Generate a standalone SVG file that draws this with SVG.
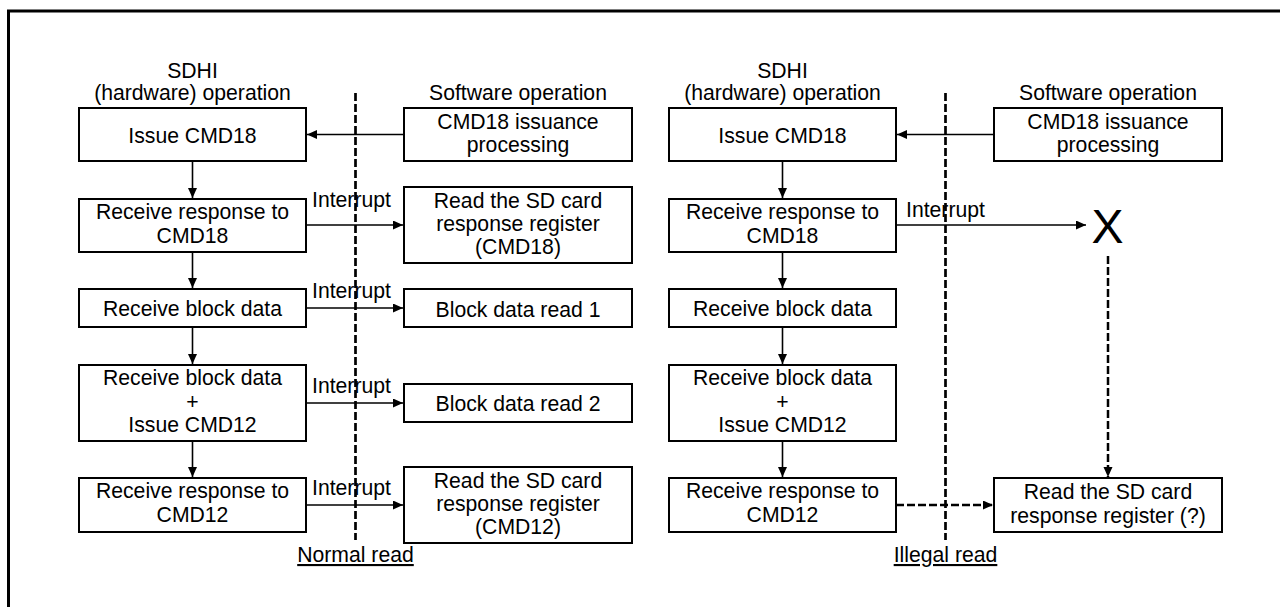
<svg xmlns="http://www.w3.org/2000/svg" width="1280" height="607" viewBox="0 0 1280 607">
<style>
.box{fill:#fff;stroke:#000;stroke-width:2}
.t{font-family:"Liberation Sans",Arial,sans-serif;font-size:21.2px;fill:#000;text-anchor:middle}
.ts{font-family:"Liberation Sans",Arial,sans-serif;font-size:21.2px;fill:#000}
.a{stroke:#000;stroke-width:1.6;fill:none;marker-end:url(#ah)}
.ad{stroke:#000;stroke-width:2.5;fill:none;stroke-dasharray:8 3;marker-end:url(#ah)}
.div{stroke:#000;stroke-width:2.7;fill:none;stroke-dasharray:8 3}
</style>
<defs>
<marker id="ah" markerUnits="userSpaceOnUse" markerWidth="11" markerHeight="10" refX="10" refY="4.5" orient="auto">
<path d="M0,0 L10,4.5 L0,9 z" fill="#000"/>
</marker>
</defs>
<rect x="0" y="0" width="1280" height="607" fill="#fff"/>
<rect x="8.5" y="11" width="1300" height="700" fill="none" stroke="#000" stroke-width="3"/>

<g id="headers">
<text class="t" x="192.5" y="78">SDHI</text>
<text class="t" x="192.5" y="100">(hardware) operation</text>
<text class="t" x="518" y="100">Software operation</text>
<text class="t" x="782.5" y="78">SDHI</text>
<text class="t" x="782.5" y="100">(hardware) operation</text>
<text class="t" x="1108" y="100">Software operation</text>
</g>

<g id="dividers">
<line class="div" x1="355.5" y1="93" x2="355.5" y2="540"/>
<line class="div" x1="945.5" y1="93" x2="945.5" y2="540"/>
</g>

<g id="connectors">
<!-- left -->
<line class="a" x1="404" y1="134.5" x2="307" y2="134.5"/>
<line class="a" x1="192.5" y1="161" x2="192.5" y2="198"/>
<line class="a" x1="192.5" y1="252" x2="192.5" y2="288"/>
<line class="a" x1="192.5" y1="327" x2="192.5" y2="364"/>
<line class="a" x1="192.5" y1="441" x2="192.5" y2="477"/>
<line class="a" x1="306" y1="225" x2="403" y2="225"/>
<line class="a" x1="306" y1="308" x2="403" y2="308"/>
<line class="a" x1="306" y1="403" x2="403" y2="403"/>
<line class="a" x1="306" y1="505" x2="403" y2="505"/>
<!-- right -->
<line class="a" x1="994" y1="134.5" x2="897" y2="134.5"/>
<line class="a" x1="782.5" y1="161" x2="782.5" y2="198"/>
<line class="a" x1="782.5" y1="252" x2="782.5" y2="288"/>
<line class="a" x1="782.5" y1="327" x2="782.5" y2="364"/>
<line class="a" x1="782.5" y1="441" x2="782.5" y2="477"/>
<line class="a" x1="896" y1="225" x2="1086" y2="225"/>
<line class="ad" x1="896" y1="505" x2="993" y2="505"/>
<line class="ad" x1="1108" y1="256" x2="1108" y2="477"/>
<!-- labels -->
<text class="ts" x="312" y="207">Interrupt</text>
<text class="ts" x="312" y="298">Interrupt</text>
<text class="ts" x="312" y="393">Interrupt</text>
<text class="ts" x="312" y="495">Interrupt</text>
<text class="ts" x="906" y="217">Interrupt</text>
</g>

<!-- Left: SDHI -->
<g id="L_issue18">
<rect class="box" x="79" y="108" width="227" height="53"/>
<text class="t" x="192.5" y="143">Issue CMD18</text>
</g>
<g id="L_resp18">
<rect class="box" x="79" y="199" width="227" height="53"/>
<text class="t" x="192.5" y="218.5">Receive response to</text>
<text class="t" x="192.5" y="242.5">CMD18</text>
</g>
<g id="L_block">
<rect class="box" x="79" y="289" width="227" height="38"/>
<text class="t" x="192.5" y="316">Receive block data</text>
</g>
<g id="L_block12">
<rect class="box" x="79" y="365" width="227" height="76"/>
<text class="t" x="192.5" y="385">Receive block data</text>
<text class="t" x="192.5" y="408.5">+</text>
<text class="t" x="192.5" y="431.5">Issue CMD12</text>
</g>
<g id="L_resp12">
<rect class="box" x="79" y="478" width="227" height="54"/>
<text class="t" x="192.5" y="498">Receive response to</text>
<text class="t" x="192.5" y="521.5">CMD12</text>
</g>

<!-- Left: software -->
<g id="L_sw18">
<rect class="box" x="404" y="108" width="228" height="53"/>
<text class="t" x="518" y="129">CMD18 issuance</text>
<text class="t" x="518" y="151.5">processing</text>
</g>
<g id="L_readsd18">
<rect class="box" x="404" y="187" width="228" height="76"/>
<text class="t" x="518" y="207.5">Read the SD card</text>
<text class="t" x="518" y="230.5">response register</text>
<text class="t" x="518" y="253.5">(CMD18)</text>
</g>
<g id="L_read1">
<rect class="box" x="404" y="289" width="228" height="38"/>
<text class="t" x="518" y="316.5">Block data read 1</text>
</g>
<g id="L_read2">
<rect class="box" x="404" y="384" width="228" height="38"/>
<text class="t" x="518" y="411">Block data read 2</text>
</g>
<g id="L_readsd12">
<rect class="box" x="404" y="467" width="228" height="76"/>
<text class="t" x="518" y="488">Read the SD card</text>
<text class="t" x="518" y="511">response register</text>
<text class="t" x="518" y="533.5">(CMD12)</text>
</g>
<text class="t" x="355.5" y="562" text-decoration="underline">Normal read</text>

<!-- Right: SDHI -->
<g id="R_issue18">
<rect class="box" x="669" y="108" width="227" height="53"/>
<text class="t" x="782.5" y="143">Issue CMD18</text>
</g>
<g id="R_resp18">
<rect class="box" x="669" y="199" width="227" height="53"/>
<text class="t" x="782.5" y="218.5">Receive response to</text>
<text class="t" x="782.5" y="242.5">CMD18</text>
</g>
<g id="R_block">
<rect class="box" x="669" y="289" width="227" height="38"/>
<text class="t" x="782.5" y="316">Receive block data</text>
</g>
<g id="R_block12">
<rect class="box" x="669" y="365" width="227" height="76"/>
<text class="t" x="782.5" y="385">Receive block data</text>
<text class="t" x="782.5" y="408.5">+</text>
<text class="t" x="782.5" y="431.5">Issue CMD12</text>
</g>
<g id="R_resp12">
<rect class="box" x="669" y="478" width="227" height="54"/>
<text class="t" x="782.5" y="498">Receive response to</text>
<text class="t" x="782.5" y="521.5">CMD12</text>
</g>

<!-- Right: software -->
<g id="R_sw18">
<rect class="box" x="994" y="108" width="228" height="53"/>
<text class="t" x="1108" y="129">CMD18 issuance</text>
<text class="t" x="1108" y="151.5">processing</text>
</g>
<g id="R_x">
<text x="1107.5" y="243" font-family="Liberation Sans, Arial, sans-serif" font-size="48" text-anchor="middle" fill="#000">X</text>
</g>
<g id="R_readsd">
<rect class="box" x="994" y="478" width="228" height="54"/>
<text class="t" x="1108" y="499">Read the SD card</text>
<text class="t" x="1108" y="522.5">response register (?)</text>
</g>
<text class="t" x="945.5" y="562" text-decoration="underline">Illegal read</text>
</svg>
